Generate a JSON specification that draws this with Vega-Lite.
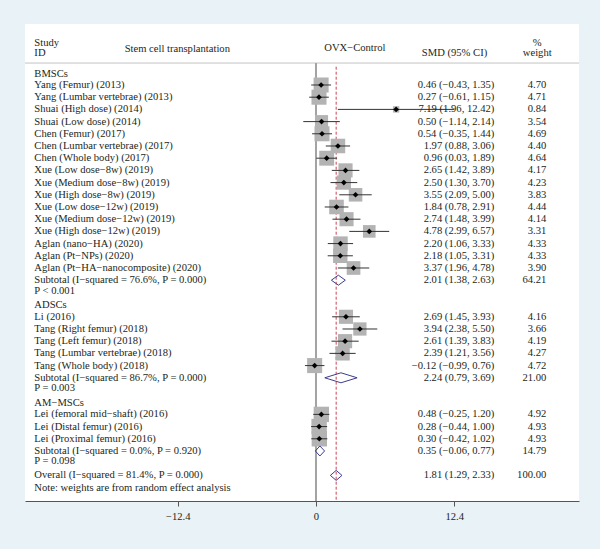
{
  "$schema": "https://vega.github.io/schema/vega-lite/v6.json",
  "width": 600,
  "height": 549,
  "autosize": {"type": "fit", "contains": "padding"},
  "padding": {"left": 24, "top": 24, "right": 20, "bottom": 27},
  "background": "#e9f2f6",
  "config": {
    "view": {"fill": "white", "stroke": null},
    "font": "Liberation Serif",
    "text": {"font": "Liberation Serif", "fontSize": 10.6, "color": "#231f20", "baseline": "middle"}
  },
  "datasets": {
    "rows": [
      {"label": "BMSCs", "kind": "head", "r": 0.1},
      {"label": "Yang (Femur) (2013)", "kind": "study", "r": 1, "est": 0.46, "lo": -0.43, "hi": 1.35, "w": 4.70, "ci": "0.46 (−0.43, 1.35)", "wt": "4.70"},
      {"label": "Yang (Lumbar vertebrae) (2013)", "kind": "study", "r": 2, "est": 0.27, "lo": -0.61, "hi": 1.15, "w": 4.71, "ci": "0.27 (−0.61, 1.15)", "wt": "4.71"},
      {"label": "Shuai (High dose) (2014)", "kind": "study", "r": 3, "est": 7.19, "lo": 1.96, "hi": 12.42, "w": 0.84, "ci": "7.19 (1.96, 12.42)", "wt": "0.84"},
      {"label": "Shuai (Low dose) (2014)", "kind": "study", "r": 4, "est": 0.50, "lo": -1.14, "hi": 2.14, "w": 3.54, "ci": "0.50 (−1.14, 2.14)", "wt": "3.54"},
      {"label": "Chen (Femur) (2017)", "kind": "study", "r": 5, "est": 0.54, "lo": -0.35, "hi": 1.44, "w": 4.69, "ci": "0.54 (−0.35, 1.44)", "wt": "4.69"},
      {"label": "Chen (Lumbar vertebrae) (2017)", "kind": "study", "r": 6, "est": 1.97, "lo": 0.88, "hi": 3.06, "w": 4.40, "ci": "1.97 (0.88, 3.06)", "wt": "4.40"},
      {"label": "Chen (Whole body) (2017)", "kind": "study", "r": 7, "est": 0.96, "lo": 0.03, "hi": 1.89, "w": 4.64, "ci": "0.96 (0.03, 1.89)", "wt": "4.64"},
      {"label": "Xue (Low dose−8w) (2019)", "kind": "study", "r": 8, "est": 2.65, "lo": 1.42, "hi": 3.89, "w": 4.17, "ci": "2.65 (1.42, 3.89)", "wt": "4.17"},
      {"label": "Xue (Medium dose−8w) (2019)", "kind": "study", "r": 9, "est": 2.50, "lo": 1.30, "hi": 3.70, "w": 4.23, "ci": "2.50 (1.30, 3.70)", "wt": "4.23"},
      {"label": "Xue (High dose−8w) (2019)", "kind": "study", "r": 10, "est": 3.55, "lo": 2.09, "hi": 5.00, "w": 3.83, "ci": "3.55 (2.09, 5.00)", "wt": "3.83"},
      {"label": "Xue (Low dose−12w) (2019)", "kind": "study", "r": 11, "est": 1.84, "lo": 0.78, "hi": 2.91, "w": 4.44, "ci": "1.84 (0.78, 2.91)", "wt": "4.44"},
      {"label": "Xue (Medium dose−12w) (2019)", "kind": "study", "r": 12, "est": 2.74, "lo": 1.48, "hi": 3.99, "w": 4.14, "ci": "2.74 (1.48, 3.99)", "wt": "4.14"},
      {"label": "Xue (High dose−12w) (2019)", "kind": "study", "r": 13, "est": 4.78, "lo": 2.99, "hi": 6.57, "w": 3.31, "ci": "4.78 (2.99, 6.57)", "wt": "3.31"},
      {"label": "Aglan (nano−HA) (2020)", "kind": "study", "r": 14, "est": 2.20, "lo": 1.06, "hi": 3.33, "w": 4.33, "ci": "2.20 (1.06, 3.33)", "wt": "4.33"},
      {"label": "Aglan (Pt−NPs) (2020)", "kind": "study", "r": 15, "est": 2.18, "lo": 1.05, "hi": 3.31, "w": 4.33, "ci": "2.18 (1.05, 3.31)", "wt": "4.33"},
      {"label": "Aglan (Pt−HA−nanocomposite) (2020)", "kind": "study", "r": 16, "est": 3.37, "lo": 1.96, "hi": 4.78, "w": 3.90, "ci": "3.37 (1.96, 4.78)", "wt": "3.90"},
      {"label": "Subtotal (I−squared = 76.6%, P = 0.000)", "kind": "sub", "r": 17, "est": 2.01, "lo": 1.38, "hi": 2.63, "w": 64.21, "ci": "2.01 (1.38, 2.63)", "wt": "64.21"},
      {"label": "P < 0.001", "kind": "p", "r": 17.85},
      {"label": "ADSCs", "kind": "head", "r": 19.05},
      {"label": "Li (2016)", "kind": "study", "r": 20, "est": 2.69, "lo": 1.45, "hi": 3.93, "w": 4.16, "ci": "2.69 (1.45, 3.93)", "wt": "4.16"},
      {"label": "Tang (Right femur) (2018)", "kind": "study", "r": 21, "est": 3.94, "lo": 2.38, "hi": 5.50, "w": 3.66, "ci": "3.94 (2.38, 5.50)", "wt": "3.66"},
      {"label": "Tang (Left femur) (2018)", "kind": "study", "r": 22, "est": 2.61, "lo": 1.39, "hi": 3.83, "w": 4.19, "ci": "2.61 (1.39, 3.83)", "wt": "4.19"},
      {"label": "Tang (Lumbar vertebrae) (2018)", "kind": "study", "r": 23, "est": 2.39, "lo": 1.21, "hi": 3.56, "w": 4.27, "ci": "2.39 (1.21, 3.56)", "wt": "4.27"},
      {"label": "Tang (Whole body) (2018)", "kind": "study", "r": 24, "est": -0.12, "lo": -0.99, "hi": 0.76, "w": 4.72, "ci": "−0.12 (−0.99, 0.76)", "wt": "4.72"},
      {"label": "Subtotal (I−squared = 86.7%, P = 0.000)", "kind": "sub", "r": 25, "est": 2.24, "lo": 0.79, "hi": 3.69, "w": 21.00, "ci": "2.24 (0.79, 3.69)", "wt": "21.00"},
      {"label": "P = 0.003", "kind": "p", "r": 25.8},
      {"label": "AM−MSCs", "kind": "head", "r": 27.05},
      {"label": "Lei (femoral mid−shaft) (2016)", "kind": "study", "r": 28, "est": 0.48, "lo": -0.25, "hi": 1.20, "w": 4.92, "ci": "0.48 (−0.25, 1.20)", "wt": "4.92"},
      {"label": "Lei (Distal femur) (2016)", "kind": "study", "r": 29, "est": 0.28, "lo": -0.44, "hi": 1.00, "w": 4.93, "ci": "0.28 (−0.44, 1.00)", "wt": "4.93"},
      {"label": "Lei (Proximal femur) (2016)", "kind": "study", "r": 30, "est": 0.30, "lo": -0.42, "hi": 1.02, "w": 4.93, "ci": "0.30 (−0.42, 1.02)", "wt": "4.93"},
      {"label": "Subtotal (I−squared = 0.0%, P = 0.920)", "kind": "sub", "r": 31, "est": 0.35, "lo": -0.06, "hi": 0.77, "w": 14.79, "ci": "0.35 (−0.06, 0.77)", "wt": "14.79"},
      {"label": "P = 0.098", "kind": "p", "r": 31.8},
      {"label": "Overall (I−squared = 81.4%, P = 0.000)", "kind": "overall", "r": 33, "est": 1.81, "lo": 1.29, "hi": 2.33, "w": 100.00, "ci": "1.81 (1.29, 2.33)", "wt": "100.00"},
      {"label": "Note: weights are from random effect analysis", "kind": "note", "r": 34}
    ]
  },
  "layer": [
    {
      "data": {"values": [{}]},
      "mark": {"type": "rule", "color": "#c4c4c4", "strokeWidth": 1},
      "encoding": {
        "x": {"datum": -26.11, "type": "quantitative",
              "scale": {"domain": [-26.11, 23.6], "nice": false, "zero": false},
              "axis": {"values": [-12.4, 0, 12.4], "labelExpr": "datum.value == 0 ? '0' : format(datum.value, '.1f')", "title": null, "grid": false, "domainColor": "#555555", "tickColor": "#555555", "tickSize": 5, "labelFont": "Liberation Serif", "labelFontSize": 10.6, "labelColor": "#231f20", "labelPadding": 5}},
        "x2": {"datum": 23.6},
        "y": {"datum": -0.8, "type": "quantitative",
              "scale": {"domain": [-4, 35.1], "nice": false, "zero": false, "reverse": true},
              "axis": null}
      }
    },
    {
      "data": {"values": [{}]},
      "mark": {"type": "rule", "color": "#a3a3a3", "strokeWidth": 2},
      "encoding": {
        "x": {"datum": 0, "type": "quantitative"},
        "y": {"datum": -0.8, "type": "quantitative"},
        "y2": {"datum": 35.1}
      }
    },
    {
      "data": {"values": [{}]},
      "mark": {"type": "rule", "color": "#c9424f", "strokeWidth": 1, "strokeDash": [3, 2]},
      "encoding": {
        "x": {"datum": 1.81, "type": "quantitative"},
        "y": {"datum": -0.5, "type": "quantitative"},
        "y2": {"datum": 35.1}
      }
    },
    {
      "data": {"name": "rows"},
      "transform": [{"filter": "datum.kind == 'study'"}],
      "mark": {"type": "point", "shape": "square", "filled": true, "color": "#b3b3b3", "opacity": 1},
      "encoding": {
        "x": {"field": "est", "type": "quantitative"},
        "y": {"field": "r", "type": "quantitative"},
        "size": {"field": "w", "type": "quantitative", "scale": {"type": "linear", "domain": [0, 5], "range": [0, 240], "zero": true}, "legend": null}
      }
    },
    {
      "data": {"name": "rows"},
      "transform": [{"filter": "datum.kind == 'study'"}],
      "mark": {"type": "rule", "color": "#333333", "strokeWidth": 1},
      "encoding": {
        "x": {"field": "lo", "type": "quantitative"},
        "x2": {"field": "hi"},
        "y": {"field": "r", "type": "quantitative"}
      }
    },
    {
      "data": {"name": "rows"},
      "transform": [{"filter": "datum.kind == 'study'"}],
      "mark": {"type": "point", "shape": "diamond", "filled": true, "color": "#000000", "opacity": 1, "size": 32},
      "encoding": {
        "x": {"field": "est", "type": "quantitative"},
        "y": {"field": "r", "type": "quantitative"}
      }
    },
    {
      "data": {"name": "rows"},
      "transform": [{"filter": "datum.kind == 'sub' || datum.kind == 'overall'"}],
      "mark": {"type": "rule", "color": "#3d3c8e", "strokeWidth": 1, "y2Offset": -5},
      "encoding": {
        "x": {"field": "lo", "type": "quantitative"},
        "x2": {"field": "est"},
        "y": {"field": "r", "type": "quantitative"},
        "y2": {"field": "r"}
      }
    },
    {
      "data": {"name": "rows"},
      "transform": [{"filter": "datum.kind == 'sub' || datum.kind == 'overall'"}],
      "mark": {"type": "rule", "color": "#3d3c8e", "strokeWidth": 1, "y2Offset": 5},
      "encoding": {
        "x": {"field": "lo", "type": "quantitative"},
        "x2": {"field": "est"},
        "y": {"field": "r", "type": "quantitative"},
        "y2": {"field": "r"}
      }
    },
    {
      "data": {"name": "rows"},
      "transform": [{"filter": "datum.kind == 'sub' || datum.kind == 'overall'"}],
      "mark": {"type": "rule", "color": "#3d3c8e", "strokeWidth": 1, "yOffset": -5},
      "encoding": {
        "x": {"field": "est", "type": "quantitative"},
        "x2": {"field": "hi"},
        "y": {"field": "r", "type": "quantitative"},
        "y2": {"field": "r"}
      }
    },
    {
      "data": {"name": "rows"},
      "transform": [{"filter": "datum.kind == 'sub' || datum.kind == 'overall'"}],
      "mark": {"type": "rule", "color": "#3d3c8e", "strokeWidth": 1, "yOffset": 5},
      "encoding": {
        "x": {"field": "est", "type": "quantitative"},
        "x2": {"field": "hi"},
        "y": {"field": "r", "type": "quantitative"},
        "y2": {"field": "r"}
      }
    },
    {
      "data": {"name": "rows"},
      "mark": {"type": "text", "align": "left"},
      "encoding": {
        "x": {"datum": -25.27, "type": "quantitative"},
        "y": {"field": "r", "type": "quantitative"},
        "text": {"field": "label"}
      }
    },
    {
      "data": {"name": "rows"},
      "transform": [{"filter": "datum.kind == 'study' || datum.kind == 'sub' || datum.kind == 'overall'"}],
      "mark": {"type": "text", "align": "right"},
      "encoding": {
        "x": {"datum": 16.0, "type": "quantitative"},
        "y": {"field": "r", "type": "quantitative"},
        "text": {"field": "ci"}
      }
    },
    {
      "data": {"name": "rows"},
      "transform": [{"filter": "datum.kind == 'study' || datum.kind == 'sub' || datum.kind == 'overall'"}],
      "mark": {"type": "text", "align": "right"},
      "encoding": {
        "x": {"datum": 20.66, "type": "quantitative"},
        "y": {"field": "r", "type": "quantitative"},
        "text": {"field": "wt"}
      }
    },
    {
      "data": {"values": [{"t": "Study", "r": -2.42}, {"t": "ID", "r": -1.6}]},
      "mark": {"type": "text", "align": "left"},
      "encoding": {
        "x": {"datum": -25.27, "type": "quantitative"},
        "y": {"field": "r", "type": "quantitative"},
        "text": {"field": "t"}
      }
    },
    {
      "data": {"values": [{"t": "Stem cell transplantation", "r": -1.93}]},
      "mark": {"type": "text", "align": "left"},
      "encoding": {
        "x": {"datum": -17.17, "type": "quantitative"},
        "y": {"field": "r", "type": "quantitative"},
        "text": {"field": "t"}
      }
    },
    {
      "data": {"values": [{"t": "OVX−Control", "r": -2.0}]},
      "mark": {"type": "text", "align": "center"},
      "encoding": {
        "x": {"datum": 3.49, "type": "quantitative"},
        "y": {"field": "r", "type": "quantitative"},
        "text": {"field": "t"}
      }
    },
    {
      "data": {"values": [{"t": "SMD (95% CI)", "r": -1.6}]},
      "mark": {"type": "text", "align": "center"},
      "encoding": {
        "x": {"datum": 12.43, "type": "quantitative"},
        "y": {"field": "r", "type": "quantitative"},
        "text": {"field": "t"}
      }
    },
    {
      "data": {"values": [{"t": "%", "r": -2.47}, {"t": "weight", "r": -1.6}]},
      "mark": {"type": "text", "align": "center"},
      "encoding": {
        "x": {"datum": 19.85, "type": "quantitative"},
        "y": {"field": "r", "type": "quantitative"},
        "text": {"field": "t"}
      }
    }
  ]
}
